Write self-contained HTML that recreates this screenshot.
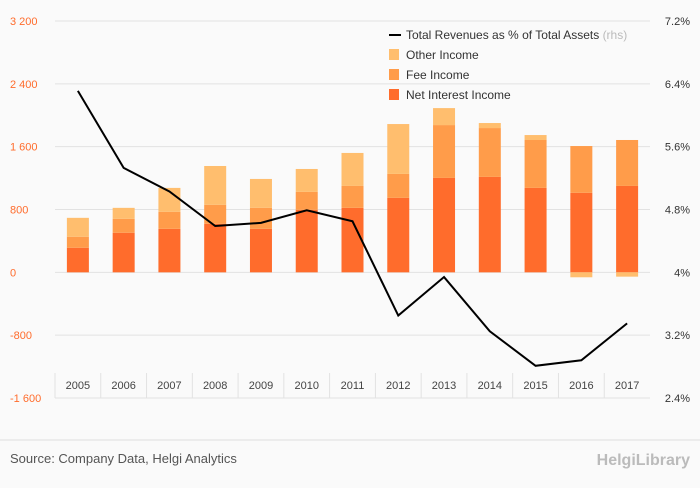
<!DOCTYPE html>
<html><head><meta charset="utf-8"><style>
body{margin:0;background:#fafafa;font-family:"Liberation Sans",sans-serif;}
svg text{font-family:"Liberation Sans",sans-serif;}
</style></head><body>
<svg id="c" width="700" height="483" xmlns="http://www.w3.org/2000/svg">
<rect width="700" height="483" fill="#fafafa"/>
<g id="grid"></g><g id="bars"></g><g id="line"></g><g id="axes"></g>
<g font-size="12" fill="#333">
<line x1="389" y1="35" x2="401" y2="35" stroke="#000" stroke-width="2"/>
<text x="406" y="39">Total Revenues as % of Total Assets <tspan fill="#bbb">(rhs)</tspan></text>
<rect x="389" y="49" width="10" height="11" fill="#ffbe6e"/><text x="406" y="59">Other Income</text>
<rect x="389" y="69" width="10" height="11" fill="#ff9c4a"/><text x="406" y="79">Fee Income</text>
<rect x="389" y="89" width="10" height="11" fill="#ff6c2c"/><text x="406" y="99">Net Interest Income</text>
</g>
<line x1="0" y1="440" x2="700" y2="440" stroke="#ddd"/>
<text x="10" y="463" font-size="13" fill="#555">Source: Company Data, Helgi Analytics</text>
<text x="690" y="465" font-size="16" fill="#bbb" text-anchor="end" font-weight="bold">HelgiLibrary</text>
</svg>
<script>
const years=["2005","2006","2007","2008","2009","2010","2011","2012","2013","2014","2015","2016","2017"];
const nii=[313,504,554,618,554,796,821,948,1202,1215,1075,1012,1100];
const fee=[140,177,216,241,267,228,279,305,673,622,610,596,585];
const other=[241,140,305,495,368,292,420,635,216,64,63,-63,-55];
const ratio=[6.31,5.33,5.03,4.59,4.63,4.79,4.65,3.45,3.94,3.25,2.81,2.88,3.35];
const leftTicks=[-1600,-800,0,800,1600,2400,3200];
const rightTicks=["2.4%","3.2%","4%","4.8%","5.6%","6.4%","7.2%"];
const X0=55,X1=650,yTop=21,yBot=398;
const yL=v=>yBot-(v+1600)/4800*(yBot-yTop);
const yR=v=>yBot-(v-2.4)/4.8*(yBot-yTop);
const bw=(X1-X0)/years.length;
const xc=i=>X0+bw*(i+0.5);
const NS="http://www.w3.org/2000/svg";
function mk(t,a,p){const e=document.createElementNS(NS,t);for(const k in a)e.setAttribute(k,a[k]);p.appendChild(e);return e;}
const G=document.getElementById('grid'),B=document.getElementById('bars'),L=document.getElementById('line'),A=document.getElementById('axes');
leftTicks.forEach((v,i)=>{const y=yL(v);
 const g=mk('line',{x1:X0,x2:X1,y1:y,y2:y,stroke:'#e2e2e2'},G);
 
 
 const t=mk('text',{x:10,y:y+4,'font-size':11,fill:'#ff6c2c'},A);t.textContent=v.toLocaleString('en').replace(',',' ');
 
 
 const r=mk('text',{x:690,y:y+4,'font-size':11,fill:'#333','text-anchor':'end'},A);r.textContent=rightTicks[i];
 
 
});
const w=22,s=0.0;
years.forEach((yr,i)=>{const x=xc(i)-w/2;
 const segs=[[0,nii[i],'#ff6c2c'],[nii[i],nii[i]+fee[i],'#ff9c4a']];
 if(other[i]>=0)segs.push([nii[i]+fee[i],nii[i]+fee[i]+other[i],'#ffbe6e']);else segs.push([other[i],0,'#ffbe6e']);
 segs.forEach(([a,b,c],k)=>{const r=mk('rect',{x:x,y:yL(b),width:w,height:yL(a)-yL(b),fill:c},B);
  
  });
 const t=mk('text',{x:xc(i),y:389,'font-size':11,fill:'#444','text-anchor':'middle'},A);t.textContent=yr;
 
 
 const sep=mk('line',{x1:X0+bw*i,x2:X0+bw*i,y1:373,y2:398,stroke:'#e2e2e2'},A);
 
 
});
const p=mk('polyline',{points:ratio.map((v,i)=>xc(i)+','+yR(v)).join(' '),fill:'none',stroke:'#000','stroke-width':2},L);


</script>
</body></html>
